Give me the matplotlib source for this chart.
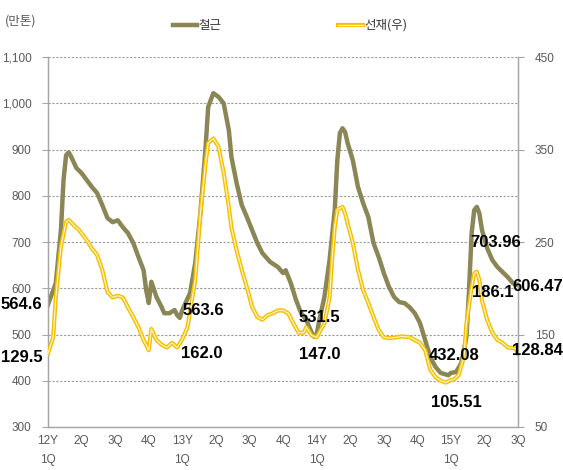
import numpy as np
import matplotlib.pyplot as plt
from matplotlib.lines import Line2D

# 주간 데이터 (12Y 1Q 첫 주 = 0)
steel_weeks = [0, 3, 5, 6, 7, 8, 9, 11, 13, 15, 17, 19, 21, 23, 25, 27, 29, 31, 33, 35,
               37, 38, 39, 40, 42, 44, 45, 47, 49, 50, 51, 52, 55, 57, 59, 61, 62, 64, 66, 68,
               70, 71, 73, 75, 77, 79, 81, 83, 86, 89, 91, 92, 94, 96, 98, 100, 102, 103, 104, 105,
               107, 109, 111, 112, 113, 114, 115, 116, 118, 120, 122, 124, 126, 128, 130, 132, 134, 136, 138, 140,
               142, 144, 146, 148, 150, 152, 155, 156, 158, 160, 162, 163, 164, 165, 166, 167, 168, 170, 172, 174,
               176, 178, 180, 182]
steel = [564.6, 611, 726, 834, 888, 894, 884, 860, 849, 834, 819, 806, 780, 752, 743, 747, 732, 719, 698, 668,
         639, 596, 568, 614, 581, 559, 546, 546, 553, 542, 536, 553, 590, 655, 763, 905, 992, 1022, 1014, 1000,
         942, 884, 828, 780, 754, 726, 698, 676, 657, 646, 633, 639, 611, 575, 546, 531, 505, 495, 500, 530,
         581, 661, 769, 877, 936, 946, 938, 914, 877, 819, 784, 754, 698, 668, 633, 603, 581, 570, 568, 559,
         546, 525, 488, 451, 430, 417, 412, 417, 419, 438, 495, 596, 719, 769, 776, 762, 726, 687, 661, 646,
         635, 624, 611, 606.47]

wire_weeks = [0, 2, 3, 5, 7, 8, 10, 12, 15, 17, 19, 21, 23, 25, 27, 29, 31, 33, 35, 37,
              39, 40, 42, 44, 46, 48, 50, 52, 54, 57, 59, 61, 62, 64, 66, 68, 70, 71, 73, 75,
              77, 79, 81, 83, 85, 87, 89, 91, 93, 95, 97, 99, 100, 102, 104, 107, 109, 110, 111, 112,
              114, 115, 116, 118, 120, 122, 124, 126, 128, 130, 132, 135, 137, 140, 142, 144, 146, 148, 150, 152,
              154, 156, 157, 159, 161, 162, 164, 165, 166, 167, 168, 170, 172, 174, 176, 178, 181, 182]
wire = [129.5, 147, 190, 245, 272, 274, 268, 263, 252, 243, 236, 220, 196, 190, 192, 190, 179, 169, 158, 144,
        133, 156, 144, 139, 136, 141, 136, 145, 158, 209, 281, 335, 357, 362, 353, 325, 288, 266, 241, 220,
        201, 180, 169, 166, 171, 173, 176, 176, 173, 162, 152, 152, 158, 149, 147, 162, 190, 231, 266, 285,
        288, 281, 270, 249, 220, 198, 184, 169, 155, 147, 146, 147, 148, 147, 144, 141, 133, 112, 104, 100,
        98, 101, 101, 106, 126, 162, 201, 216, 218, 209, 187, 166, 152, 144, 141, 136, 135, 128.84]

tick_weeks = list(range(0, 183, 13))
tick_labels = ["12Y\n1Q", "2Q", "3Q", "4Q", "13Y\n1Q", "2Q", "3Q", "4Q",
               "14Y\n1Q", "2Q", "3Q", "4Q", "15Y\n1Q", "2Q", "3Q"]

# 데이터 라벨 (텍스트, 주, 좌축 기준 위치)
labels = [("564.6", -18.3, 566, "left"), ("129.5", -18.3, 451, "left"),
          ("563.6", 52, 553, "left"), ("162.0", 51.6, 460, "left"),
          ("531.5", 97, 536, "left"), ("147.0", 97, 456, "left"),
          ("432.08", 147.5, 454, "left"), ("105.51", 148.2, 354, "left"),
          ("703.96", 163.4, 698, "left"), ("186.1", 164.1, 590, "left"),
          ("606.47", 199.5, 603, "right"), ("128.84", 199.5, 466, "right")]

olive = "#8B8656"
gold = "#F5C000"
pale = "#FFF6C8"
gray = "#595959"
latin = ["Liberation Sans", "DejaVu Sans"]
kr = ["Noto Sans CJK KR", "DejaVu Sans"]

fig = plt.figure(figsize=(5.63, 4.70), dpi=100)
ax = fig.add_axes([0.0853, 0.0915, 0.835, 0.787])
ax2 = ax.twinx()

ax.plot(steel_weeks, steel, color=olive, lw=3.2, solid_joinstyle="round", zorder=3)
ax2.plot(wire_weeks, wire, color=gold, lw=3.0, solid_joinstyle="round", zorder=3)
ax2.plot(wire_weeks, wire, color=pale, lw=0.9, solid_joinstyle="round", zorder=4)

ax.set_xlim(0, 182)
ax.set_ylim(300, 1100)
ax2.set_ylim(50, 450)
ax.set_yticks(range(300, 1101, 100))
ax.set_yticklabels([f"{v:,}" for v in range(300, 1101, 100)])
ax2.set_yticks(range(50, 451, 100))
ax.set_xticks(tick_weeks)
ax.set_xticklabels(tick_labels)

for v in range(400, 1101, 100):
    ax.axhline(v, color="#9a9a9a", lw=0.8, ls=(0, (2, 1.5)), zorder=1)

for a in (ax, ax2):
    a.spines["top"].set_visible(False)
    for s in ("left", "right", "bottom"):
        a.spines[s].set_color("#a6a6a6")
        a.spines[s].set_linewidth(0.9)
ax.tick_params(axis="x", length=0, pad=6, labelcolor=gray)
ax.tick_params(axis="y", length=4, color="#a6a6a6", labelcolor=gray, pad=8)
ax2.tick_params(axis="y", length=4, color="#a6a6a6", labelcolor=gray, pad=8)
for t in ax.get_xticklabels() + ax.get_yticklabels() + ax2.get_yticklabels():
    t.set_family(latin)
    t.set_fontsize(8.5)
for t in ax.get_xticklabels():
    t.set_linespacing(1.7)
    t.set_horizontalalignment("center")

# 라벨은 두 선 위에 오도록 ax2에 좌축 좌표로 그림
for txt, x, y, ha in labels:
    ax2.text(x, y, txt, ha=ha, va="center", fontsize=12, fontweight="bold",
             family=latin, color="black", zorder=6, clip_on=False, transform=ax.transData)

fig.text(0.008, 0.955, "(만톤)", fontsize=9, color=gray, family=kr, va="center")

# 범례
ly = 1 - 25 / 470
fig.add_artist(Line2D([173 / 563, 197 / 563], [ly, ly], color=olive, lw=3.2))
fig.text(198 / 563, ly, "철근", fontsize=9, color="#333333", family=kr, va="center")
fig.add_artist(Line2D([338 / 563, 363 / 563], [ly, ly], color=gold, lw=3.0))
fig.add_artist(Line2D([338 / 563, 363 / 563], [ly, ly], color=pale, lw=0.9))
fig.text(364 / 563, ly, "선재(우)", fontsize=9, color="#333333", family=kr, va="center")

fig.savefig("out.png", dpi=100)
